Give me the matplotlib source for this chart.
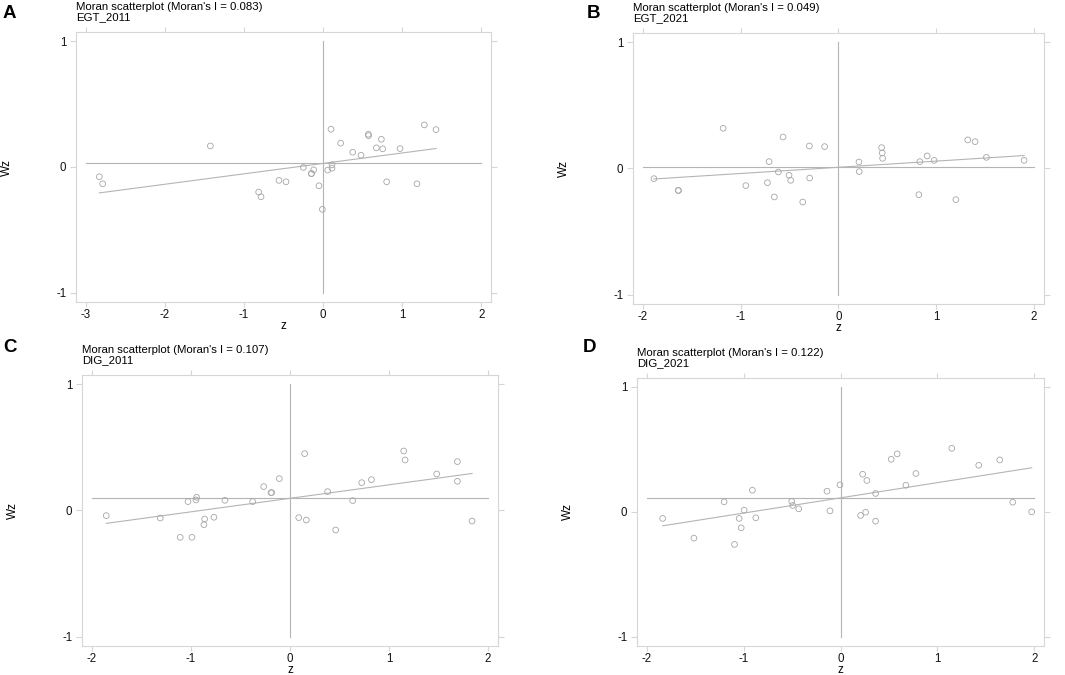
import matplotlib
matplotlib.use("Agg")
import matplotlib.pyplot as plt
import numpy as np

plt.rcParams['font.family'] = ['Liberation Sans', 'DejaVu Sans']
plt.rcParams['axes.unicode_minus'] = False

# panel A: EGT_2011
egt11_z = [-2.825, -2.783, -1.423, -0.813, -0.783, -0.556, -0.467, -0.248, -0.147, -0.145,
           -0.118, -0.051, -0.008, 0.059, 0.101, 0.114, 0.114, 0.223, 0.375, 0.480,
           0.573, 0.575, 0.674, 0.737, 0.754, 0.804, 0.973, 1.187, 1.280, 1.427]
egt11_wz = [-0.079, -0.135, 0.166, -0.201, -0.238, -0.108, -0.119, -0.005, -0.055, -0.053,
            -0.024, -0.151, -0.338, -0.026, 0.299, 0.016, -0.011, 0.188, 0.116, 0.092,
            0.259, 0.248, 0.151, 0.219, 0.143, -0.119, 0.145, -0.135, 0.333, 0.296]

# panel B: EGT_2021
egt21_z = [-1.886, -1.637, -1.635, -1.178, -0.946, -0.725, -0.708, -0.654, -0.613, -0.565,
           -0.504, -0.487, -0.364, -0.296, -0.293, -0.140, 0.211, 0.214, 0.443, 0.449,
           0.453, 0.824, 0.834, 0.909, 0.980, 1.202, 1.324, 1.399, 1.515, 1.900]
egt21_wz = [-0.082, -0.174, -0.177, 0.317, -0.137, -0.114, 0.053, -0.227, -0.029, 0.248,
            -0.055, -0.095, -0.267, 0.177, -0.077, 0.172, 0.050, -0.026, 0.164, 0.122,
            0.079, -0.209, 0.053, 0.098, 0.063, -0.248, 0.225, 0.211, 0.087, 0.063]

# panel C: DIG_2011
dig11_z = [-1.855, -1.310, -1.108, -1.030, -0.990, -0.949, -0.943, -0.862, -0.869, -0.768,
           -0.657, -0.377, -0.266, -0.192, -0.185, -0.108, 0.088, 0.148, 0.165, 0.380,
           0.461, 0.633, 0.724, 0.822, 1.148, 1.162, 1.481, 1.690, 1.690, 1.838]
dig11_wz = [-0.042, -0.061, -0.214, 0.069, -0.214, 0.082, 0.103, -0.069, -0.114, -0.055,
            0.079, 0.069, 0.188, 0.140, 0.140, 0.251, -0.058, 0.449, -0.077, 0.148,
            -0.156, 0.077, 0.219, 0.243, 0.470, 0.399, 0.288, 0.386, 0.230, -0.085]

# panel D: DIG_2021
dig21_z = [-1.838, -1.515, -1.203, -1.096, -1.048, -1.027, -0.997, -0.911, -0.876, -0.505,
           -0.495, -0.433, -0.141, -0.110, -0.007, 0.206, 0.227, 0.258, 0.271, 0.361,
           0.361, 0.522, 0.584, 0.674, 0.777, 1.148, 1.426, 1.643, 1.777, 1.973]
dig21_wz = [-0.053, -0.211, 0.080, -0.261, -0.053, -0.128, 0.013, 0.173, -0.048, 0.083,
            0.051, 0.024, 0.165, 0.008, 0.216, -0.029, 0.301, -0.003, 0.251, 0.147,
            -0.075, 0.421, 0.464, 0.213, 0.307, 0.509, 0.373, 0.416, 0.077, 0.000]

panel_letters = ["A", "B", "C", "D"]
var_names = ["EGT_2011", "EGT_2021", "DIG_2011", "DIG_2021"]
morans_i = [0.083, 0.049, 0.107, 0.122]
wz_means = [0.027, 0.008, 0.095, 0.112]
xticks_list = [[-3, -2, -1, 0, 1, 2], [-2, -1, 0, 1, 2], [-2, -1, 0, 1, 2], [-2, -1, 0, 1, 2]]
yticks = [-1, 0, 1]

W, H = 1065, 675
# frame boxes in pixels: left, top, right, bottom
boxes = [(76, 32, 491, 302), (633, 33, 1044, 304), (82, 375, 498, 646), (637, 378, 1044, 646)]
xlims = [(-3.12, 2.122), (-2.10, 2.104), (-2.10, 2.10), (-2.103, 2.10)]
letter_pos = [(3, 18), (587, 18), (3, 352), (583, 352)]

frame_c = "#d6d6d6"
line_c = "#b4b4b4"
mark_c = "#a6a6a6"
fs = 8.2

fig = plt.figure(figsize=(W / 100, H / 100), dpi=100)

all_z = [egt11_z, egt21_z, dig11_z, dig21_z]
all_wz = [egt11_wz, egt21_wz, dig11_wz, dig21_wz]

for k in range(4):
    l, t, r, b = boxes[k]
    ax = fig.add_axes([l / W, (H - b) / H, (r - l) / W, (b - t) / H])
    z = np.array(all_z[k])
    wz = np.array(all_wz[k])
    xt = xticks_list[k]

    # reference lines
    ax.plot([xt[0], xt[-1]], [wz_means[k], wz_means[k]], color=line_c, lw=0.8)
    ax.plot([0, 0], [yticks[0], yticks[-1]], color=line_c, lw=0.8)
    # fitted line
    xx = np.array([z.min(), z.max()])
    ax.plot(xx, wz_means[k] + morans_i[k] * xx, color=line_c, lw=0.8)

    ax.scatter(z, wz, s=17, facecolors="none", edgecolors=mark_c, linewidths=0.6, zorder=3)

    ax.set_xlim(*xlims[k])
    ax.set_ylim(-1.075, 1.072)
    ax.set_xticks(xt)
    ax.set_yticks(yticks)
    ax.tick_params(direction="out", length=3.6, width=0.8, color=frame_c,
                   top=True, right=True, labelsize=8.3, pad=1.5, labelcolor="#111111")
    ax.tick_params(axis="y", length=4.5, pad=2.5)
    for sp in ax.spines.values():
        sp.set_color(frame_c)
        sp.set_linewidth(0.8)

    ax.set_xlabel("z", fontsize=fs + 0.2)
    ax.set_ylabel("Wz", fontsize=fs + 0.3)
    pw, ph = r - l, b - t
    ax.xaxis.set_label_coords(0.5, -18.3 / ph)
    ax.yaxis.set_label_coords(-63 / pw, 0.5)

    ax.text(0, 1 + 10 / ph, "Moran scatterplot (Moran's I = %.3f)\n%s" % (morans_i[k], var_names[k]),
            transform=ax.transAxes, ha="left", va="bottom", fontsize=fs, linespacing=0.95)

    lx, ly = letter_pos[k]
    fig.text(lx / W, (H - ly) / H, panel_letters[k], fontsize=13.5, fontweight="bold",
             ha="left", va="baseline")

fig.savefig("out.png", dpi=100)
